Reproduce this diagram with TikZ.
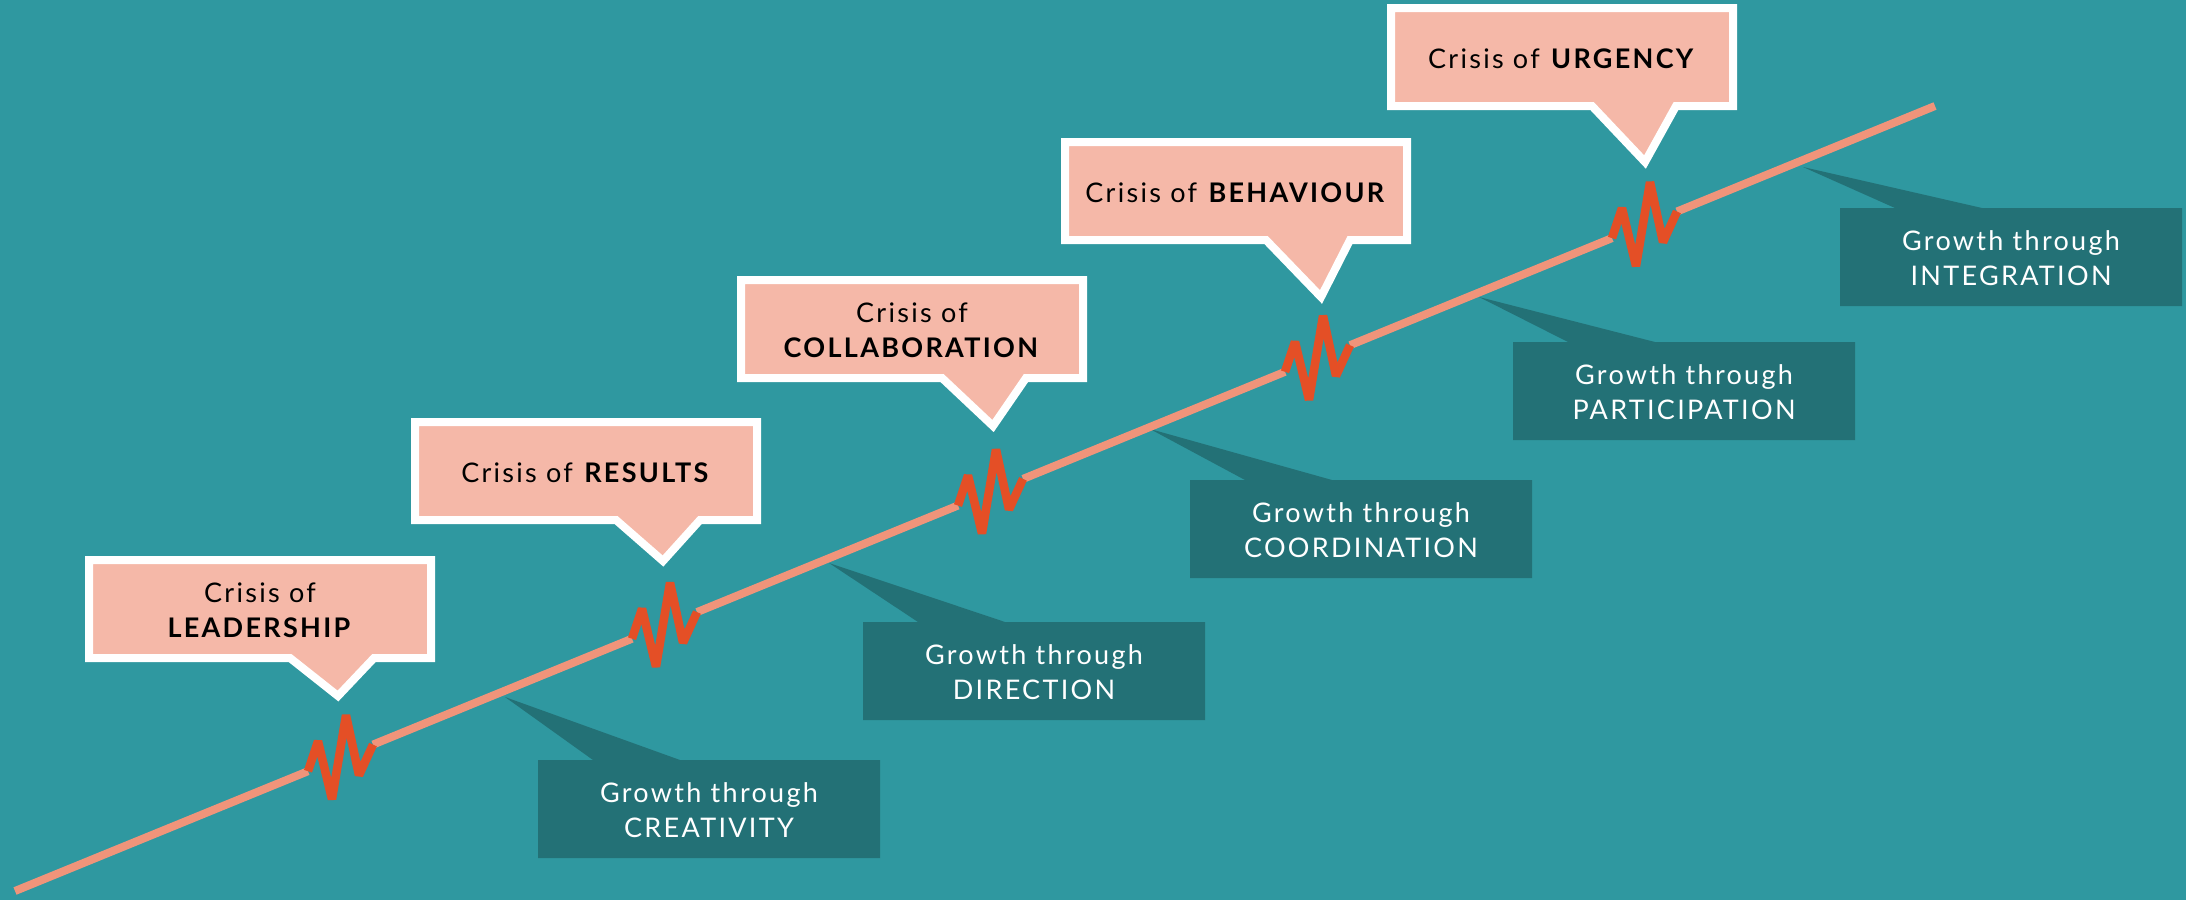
\documentclass[tikz,border=0pt]{standalone}
\usepackage{fontspec}
\setmainfont{Lato}[LetterSpace=8.5]
\definecolor{bg}{HTML}{2F98A0}
\definecolor{darkbox}{HTML}{237176}
\definecolor{pinkbox}{HTML}{F5B8A8}
\definecolor{salmon}{HTML}{F0947A}
\definecolor{zzred}{HTML}{E44F26}
\begin{document}
\begin{tikzpicture}[x=1pt,y=-1pt,
  mainline/.style={draw=salmon,line width=8pt},
  zzline/.style={draw=zzred,line width=8.5pt,line join=bevel},
  crisisbox/.style={draw=white,line width=8pt,fill=pinkbox,line join=miter},
  growthbox/.style={fill=darkbox},
  txt/.style={anchor=base,inner sep=0pt,font=\fontsize{27}{32}\selectfont},
  crisistext/.style={txt,text=black},
  growthtext/.style={txt,text=white},
  zigzag/.pic={\draw[zzline] (0,0) -- (10,-30) -- (24,28) -- (38,-56) -- (51,4) -- (65,-26.6);}
]
\fill[bg] (0,0) rectangle (2186,900);
\useasboundingbox (0,0) rectangle (2186,900);

% growth boxes with pointers
\fill[growthbox] (505,697) -- (680,760) -- (880,760) -- (880,858) -- (538,858) -- (538,760) -- (593,760) -- cycle;
\fill[growthbox] (829,563) -- (1005,622) -- (1205,622) -- (1205,720) -- (863,720) -- (863,622) -- (918,622) -- cycle;
\fill[growthbox] (1150,429) -- (1332,480) -- (1532,480) -- (1532,578) -- (1190,578) -- (1190,480) -- (1245,480) -- cycle;
\fill[growthbox] (1479,297) -- (1655,342) -- (1855,342) -- (1855,440) -- (1513,440) -- (1513,342) -- (1568,342) -- cycle;
\fill[growthbox] (1803,167) -- (1982,208) -- (2182,208) -- (2182,306) -- (1840,306) -- (1840,208) -- (1895,208) -- cycle;

\node[growthtext] (g1a) at (709,802) {Growth through};
\node[growthtext] (g1b) at (709,837) {CREATIVITY};
\node[growthtext] (g2a) at (1034,664) {Growth through};
\node[growthtext] (g2b) at (1034,699) {DIRECTION};
\node[growthtext] (g3a) at (1361,522) {Growth through};
\node[growthtext] (g3b) at (1361,557) {COORDINATION};
\node[growthtext] (g4a) at (1684,384) {Growth through};
\node[growthtext] (g4b) at (1684,419) {PARTICIPATION};
\node[growthtext] (g5a) at (2011,250) {Growth through};
\node[growthtext] (g5b) at (2011,285) {INTEGRATION};

% main line and crisis zigzags
\coordinate (A) at (15,891);
\coordinate (B) at (1935,106);
\coordinate (zs1) at (308,771.2);  \coordinate (ze1) at (373,744.6);
\coordinate (zs2) at (632,638.7);  \coordinate (ze2) at (697,612.1);
\coordinate (zs3) at (958,505.5);  \coordinate (ze3) at (1023,478.9);
\coordinate (zs4) at (1285,371.8); \coordinate (ze4) at (1350,345.2);
\coordinate (zs5) at (1612,238.1); \coordinate (ze5) at (1677,211.5);
\draw[mainline] (A) -- (zs1);
\draw[mainline] (ze1) -- (zs2);
\draw[mainline] (ze2) -- (zs3);
\draw[mainline] (ze3) -- (zs4);
\draw[mainline] (ze4) -- (zs5);
\draw[mainline] (ze5) -- (B);
\pic at (zs1) {zigzag};
\pic at (zs2) {zigzag};
\pic at (zs3) {zigzag};
\pic at (zs4) {zigzag};
\pic at (zs5) {zigzag};

% crisis callouts
\path[crisisbox] (89,560) -- (431,560) -- (431,658) -- (374,658) -- (338,696) -- (290,658) -- (89,658) -- cycle;
\path[crisisbox] (415,422) -- (757,422) -- (757,520) -- (700,520) -- (663,561) -- (616,520) -- (415,520) -- cycle;
\path[crisisbox] (741,280) -- (1083,280) -- (1083,378) -- (1026,378) -- (993,426) -- (942,378) -- (741,378) -- cycle;
\path[crisisbox] (1065,142) -- (1407,142) -- (1407,240) -- (1350,240) -- (1321,297) -- (1266,240) -- (1065,240) -- cycle;
\path[crisisbox] (1391,8) -- (1733,8) -- (1733,106) -- (1676,106) -- (1645,162) -- (1592,106) -- (1391,106) -- cycle;

\node[crisistext] (c1a) at (260,602) {Crisis of};
\node[crisistext] (c1b) at (260,637) {\textbf{LEADERSHIP}};
\node[crisistext] (c2) at (586,482) {Crisis of \textbf{RESULTS}};
\node[crisistext] (c3a) at (912,322) {Crisis of};
\node[crisistext] (c3b) at (912,357) {\textbf{COLLABORATION}};
\node[crisistext] (c4) at (1236,202) {Crisis of \textbf{BEHAVIOUR}};
\node[crisistext] (c5) at (1562,68) {Crisis of \textbf{URGENCY}};
\end{tikzpicture}
\end{document}
